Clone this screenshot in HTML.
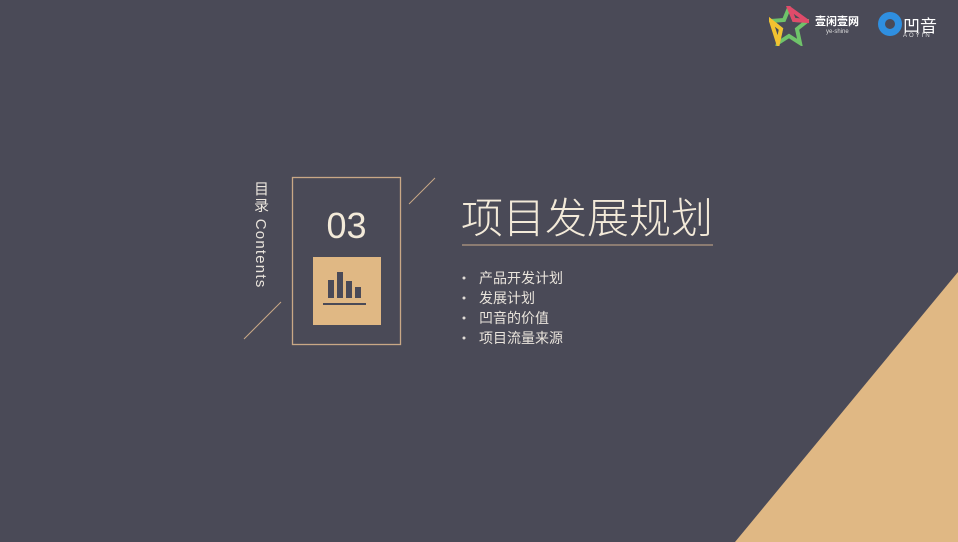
<!DOCTYPE html>
<html><head><meta charset="utf-8"><style>
body{margin:0;width:958px;height:542px;overflow:hidden;background:#4a4a57;font-family:"Liberation Sans","Noto Sans CJK SC",sans-serif;}
.a{position:absolute}
</style></head><body>
<div class="a" style="left:0;top:0;width:958px;height:542px;background:#4a4a57">
<svg class="a" width="958" height="542" style="left:0;top:0">
<polygon points="958,272 958,542 735,542" fill="#e0b884"/>
<line x1="409" y1="204" x2="435" y2="178" stroke="#c9a886" stroke-width="1"/>
<line x1="244" y1="339" x2="281" y2="302" stroke="#c9a886" stroke-width="1"/>
<rect x="292.5" y="177.5" width="108" height="167" fill="none" stroke="#c9a886" stroke-width="1.3"/>
<rect x="313" y="257" width="68" height="68" fill="#e0b884"/>
<g fill="#4a4a57">
<rect x="328" y="280" width="6" height="18"/><rect x="337" y="272" width="6" height="26"/><rect x="346" y="281" width="6" height="17"/><rect x="355" y="287" width="6" height="11"/>
<rect x="323" y="303" width="43" height="2"/></g>
<line x1="462" y1="245" x2="713" y2="245" stroke="#b59b82" stroke-width="1.2"/>
<g fill="#e0dcd6"><circle cx="464" cy="278" r="1.5"/><circle cx="464" cy="298" r="1.5"/><circle cx="464" cy="318" r="1.5"/><circle cx="464" cy="338" r="1.5"/></g>
</svg>
<div class="a" style="left:292px;top:205px;width:109px;text-align:center;font-size:36px;color:#f3ead9">03</div>
<div class="a" style="left:250px;top:181px;writing-mode:vertical-rl;font-size:15px;color:#e9e4dc;letter-spacing:1.2px">目录 Contents</div>
<div class="a" style="left:461px;top:185px;font-size:42px;font-weight:300;color:#f3ead9;white-space:nowrap">项目发展规划</div>
<div class="a" style="left:479px;top:268px;font-size:14px;line-height:20px;color:#e9e4dc">
<div>产品开发计划</div>
<div>发展计划</div>
<div>凹音的价值</div>
<div>项目流量来源</div>
</div>
<svg class="a" width="40" height="40" style="left:769px;top:6px"><polygon points="20,2 25,14 38,15 28,23 31,37 20,30 9,37 12,23 2,15 15,14" fill="none" stroke="#6fc36a" stroke-width="4"/><polygon points="20,2 25,14 38,15" fill="none" stroke="#e04b6a" stroke-width="4"/><polygon points="9,37 12,23 2,15" fill="none" stroke="#f2c230" stroke-width="4"/></svg>
<div class="a" style="left:815px;top:13px;font-size:11px;color:#fff;font-weight:bold">壹闲壹网</div>
<div class="a" style="left:826px;top:29px;font-size:6px;color:#ddd">ye-shine</div>
<div class="a" style="left:878px;top:12px;width:24px;height:24px;border-radius:50%;background:#2f8fe0"><div style="position:absolute;left:7px;top:7px;width:10px;height:10px;border-radius:50%;background:#4a4a57"></div></div>
<div class="a" style="left:903px;top:12px;font-size:17px;color:#fff">凹音</div>
<div class="a" style="left:903px;top:33px;font-size:6px;color:#ddd;letter-spacing:2px">AOYIN</div>
</div>
</body></html>
